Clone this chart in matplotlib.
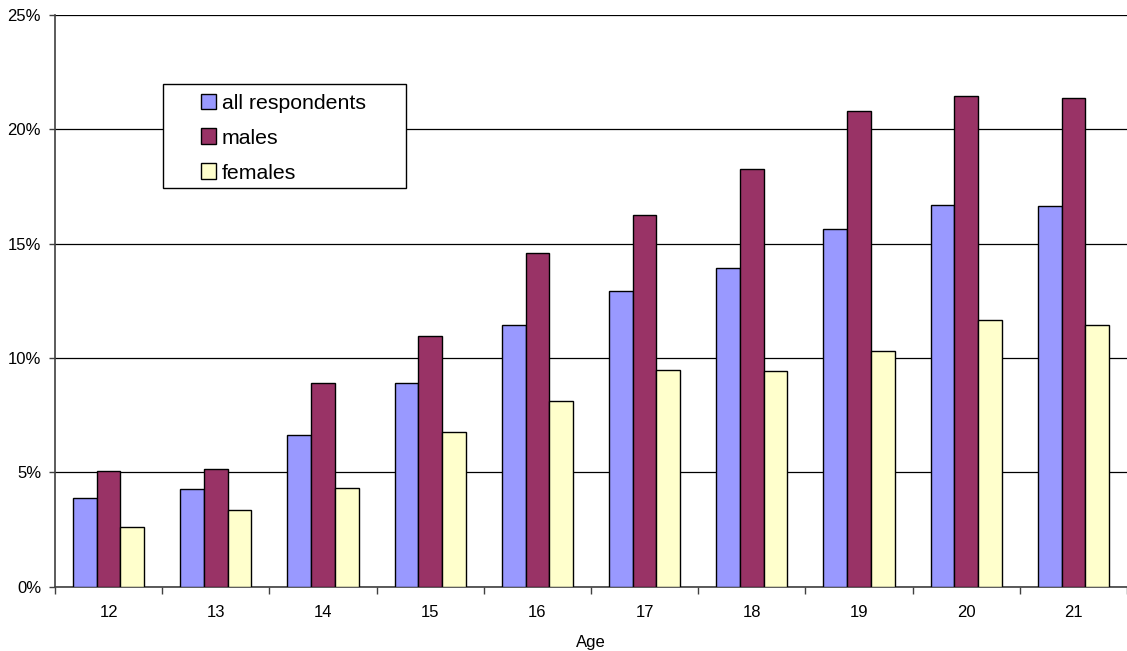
import numpy as np
import matplotlib
matplotlib.use('Agg')
import matplotlib.pyplot as plt
from matplotlib.patches import Rectangle
from matplotlib.ticker import FixedLocator, PercentFormatter

# values (percent)
ages = ['12', '13', '14', '15', '16', '17', '18', '19', '20', '21']
all_respondents = [3.87, 4.27, 6.64, 8.92, 11.42, 12.92, 13.92, 15.66, 16.69, 16.65]
males = [5.06, 5.15, 8.91, 10.98, 14.57, 16.26, 18.26, 20.80, 21.46, 21.37]
females = [2.60, 3.37, 4.31, 6.74, 8.11, 9.46, 9.42, 10.31, 11.65, 11.45]

series = [
    ('all respondents', all_respondents, '#9999FF'),
    ('males', males, '#993366'),
    ('females', females, '#FFFFCC'),
]

plt.rcParams['font.family'] = ['Liberation Sans', 'DejaVu Sans']

W, H = 1127, 651
fig = plt.figure(figsize=(W / 100, H / 100), dpi=100)
x0_px, y0_px, x1_px, y1_px = 55, 586.6, 1127, 15
ax = fig.add_axes([x0_px / W, 1 - y0_px / H, (x1_px - x0_px) / W, (y0_px - y1_px) / H])

x = np.arange(len(ages))
w = 0.222
for k, (name, vals, col) in enumerate(series):
    ax.bar(x + (k - 1) * w, vals, width=w, color=col, edgecolor='black',
           linewidth=1.0, label=name, zorder=3)

ax.set_xlim(-0.5, len(ages) - 0.5)
ax.set_ylim(0, 25)

# category labels at centres, tick marks on boundaries
ax.set_xticks(x)
ax.set_xticklabels(ages, fontsize=12)
ax.tick_params(axis='x', which='major', length=0, pad=13)
ax.xaxis.set_minor_locator(FixedLocator(np.arange(-0.5, len(ages), 1.0)))
ax.tick_params(axis='x', which='minor', length=5, width=1, color='#404040')

ax.set_yticks([0, 5, 10, 15, 20, 25])
ax.yaxis.set_major_formatter(PercentFormatter(decimals=0))
ax.tick_params(axis='y', length=4, width=1, color='#404040', labelsize=12, pad=6)

ax.grid(axis='y', color='black', linewidth=0.9, zorder=0)
ax.set_axisbelow(True)

for s in ['top', 'right']:
    ax.spines[s].set_visible(False)
for s in ['left', 'bottom']:
    ax.spines[s].set_color('#404040')
    ax.spines[s].set_linewidth(1.2)

ax.set_xlabel('Age', fontsize=12, labelpad=11)


def to_ax(px, py):
    return (px - x0_px) / (x1_px - x0_px), (y0_px - py) / (y0_px - y1_px)


# legend box (wide side padding like the original)
bx0, by0 = to_ax(163, 188)
bx1, by1 = to_ax(406, 84)
ax.add_patch(Rectangle((bx0, by0), bx1 - bx0, by1 - by0, transform=ax.transAxes,
                       facecolor='white', edgecolor='black', linewidth=1.0,
                       zorder=4, clip_on=False))

lx, ly = to_ax(201, 93.5)
leg = ax.legend(loc='upper left', bbox_to_anchor=(lx, ly), borderaxespad=0,
                borderpad=0, fontsize=15.3, frameon=False, handlelength=0.72,
                handleheight=0.75, handletextpad=0.25, labelspacing=0.74)
leg.set_zorder(5)

fig.savefig('out.png', dpi=100)
